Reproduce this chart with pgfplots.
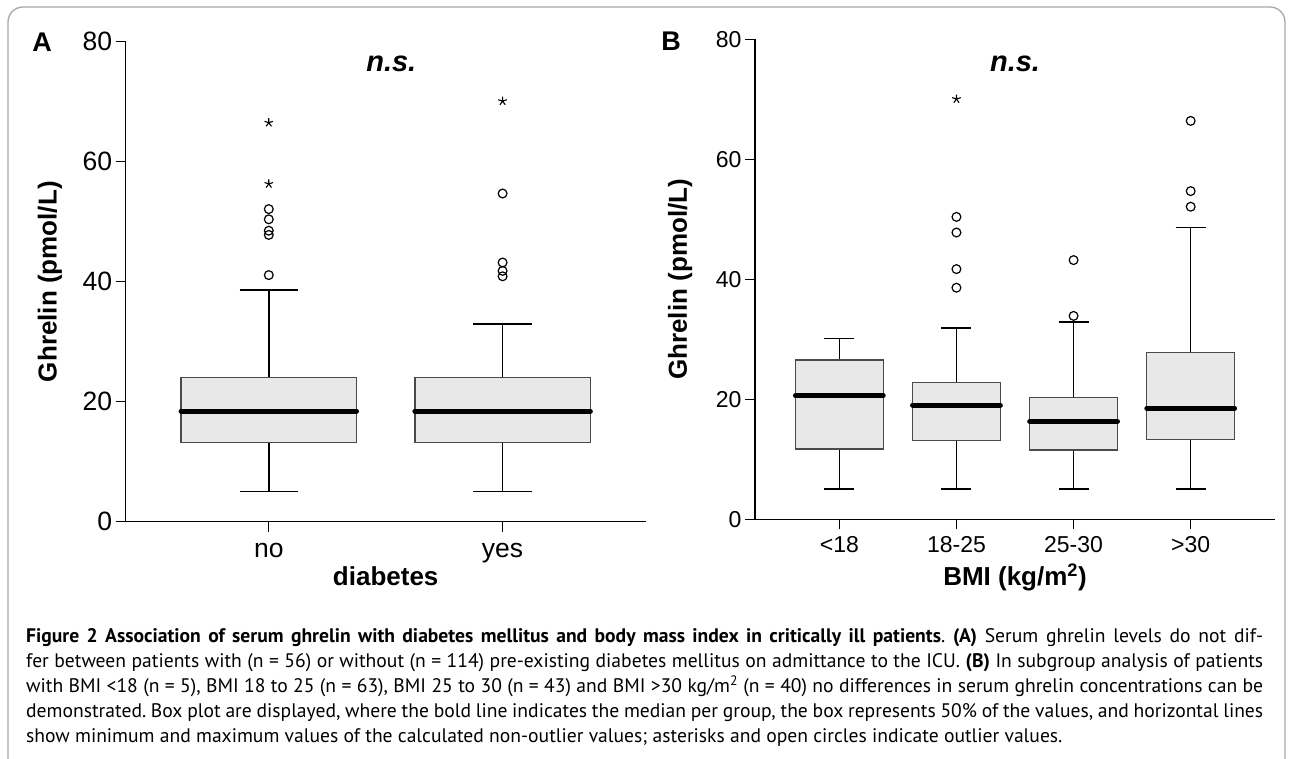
\documentclass[border=0pt]{standalone}
\usepackage{fontspec}
\setmainfont{Liberation Sans}
\newfontfamily\capfont{PT Sans}
\usepackage{pgfplots}
\pgfplotsset{compat=1.18}
\definecolor{boxfill}{HTML}{E8E8E8}
\definecolor{boxedge}{HTML}{4A4A4A}
\definecolor{framegray}{HTML}{A8A8A8}
\pgfplotsset{
  ghrelin/.style={
    scale only axis, width=520pt, height=480pt,
    axis x line*=bottom, axis y line*=left,
    ymin=0, ymax=80, ytick={0,20,40,60,80},
    tick align=outside, major tick length=10pt,
    tick style={black, line width=1.4pt},
    axis line style={black, line width=1.5pt},
    /pgf/number format/assume math mode=true,
    ylabel={\bfseries Ghrelin (pmol/L)},
  },
  whisk/.style={draw=none, mark=none, forget plot,
    error bars/.cd, y dir=both, y explicit,
    error bar style={black, line width=1.5pt},
    error mark options={black, line width=1.5pt, mark size=#1, rotate=90}},
  boxp/.style={fill=boxfill, draw=boxedge, line width=1.3pt, mark=none, forget plot},
  med/.style={only marks, mark=-, forget plot, mark options={black, line width=5pt, line cap=round, mark size=#1}},
  circ/.style={only marks, mark=o, mark size=4.4pt, black, mark options={line width=1.2pt}},
  astk/.style={only marks, mark=star, mark size=4.5pt, black, mark options={line width=1.1pt}},
}
\begin{document}
\frenchspacing
\begin{tikzpicture}
\useasboundingbox (0pt,0pt) rectangle (1292pt,-759pt);
\draw[framegray, line width=1.3pt, rounded corners=15pt] (8pt,-7pt) rectangle (1285pt,-775pt);
\node[font=\bfseries\fontsize{27}{27}\selectfont] at (42pt,-42pt) {A};
\node[font=\bfseries\fontsize{27}{27}\selectfont] at (671pt,-41pt) {B};

% Panel A
\begin{axis}[ghrelin, at={(125.7pt,-521.7pt)}, anchor=south west,
  xmin=-0.612, xmax=1.612, xtick={0,1}, xticklabels={no,yes},
  ticklabel style={font=\fontsize{26.5}{26.5}\selectfont},
  xticklabel style={anchor=base, yshift=-26pt},
  xlabel={\bfseries diabetes},
  every axis x label/.style={at={(axis description cs:0.5,-0.132)}, anchor=base, font=\fontsize{26}{26}\selectfont},
  every axis y label/.style={at={(axis description cs:-0.1456,0.5)}, rotate=90, anchor=center, font=\fontsize{26}{26}\selectfont},
]
% whiskers: centre at median, += up to upper whisker, -= down to lower whisker
\addplot[whisk=29.25pt] coordinates {(0,18.45) += (0,20.15) -= (0,13.45) (1,18.45) += (0,14.5) -= (0,13.45)};
% boxes: lower and upper quartiles
\addplot[boxp] coordinates {(-0.375,13.2) (0.375,13.2) (0.375,24.0) (-0.375,24.0)} -- cycle;
\addplot[boxp] coordinates {(0.625,13.2) (1.375,13.2) (1.375,24.0) (0.625,24.0)} -- cycle;
% medians
\addplot[med=87.75pt] coordinates {(0,18.45) (1,18.45)};
\addplot[circ] coordinates {(0,52.1) (0,50.4) (0,48.5) (0,47.8) (0,41.1) (1,54.7) (1,43.2) (1,41.8) (1,40.9)};
\addplot[astk] coordinates {(0,66.5) (0,56.3) (1,70.1)};
\node[font=\fontsize{29}{29}\selectfont\bfseries\itshape] at (axis cs:0.524,76.3) {n.s.};
\end{axis}

% Panel B
\begin{axis}[ghrelin, at={(755pt,-519.3pt)}, anchor=south west,
  xmin=-0.72, xmax=3.72, xtick={0,1,2,3}, xticklabels={{<18},{18-25},{25-30},{>30}},
  ticklabel style={font=\fontsize{23}{23}\selectfont},
  xticklabel style={anchor=base, yshift=-23.4pt},
  xlabel={\bfseries BMI (kg/m\textsuperscript{2})},
  every axis x label/.style={at={(axis description cs:0.5,-0.137)}, anchor=base, font=\fontsize{26}{26}\selectfont},
  every axis y label/.style={at={(axis description cs:-0.144,0.5)}, rotate=90, anchor=center, font=\fontsize{26}{26}\selectfont},
]
\addplot[whisk=15pt] coordinates {
  (0,20.6) += (0,9.5) -= (0,15.55)
  (1,19.05) += (0,12.85) -= (0,14.0)
  (2,16.3) += (0,16.6) -= (0,11.25)
  (3,18.5) += (0,30.1) -= (0,13.45)};
\addplot[boxp] coordinates {(-0.375,11.7) (0.375,11.7) (0.375,26.55) (-0.375,26.55)} -- cycle;
\addplot[boxp] coordinates {(0.625,13.1) (1.375,13.1) (1.375,22.8) (0.625,22.8)} -- cycle;
\addplot[boxp] coordinates {(1.625,11.55) (2.375,11.55) (2.375,20.3) (1.625,20.3)} -- cycle;
\addplot[boxp] coordinates {(2.625,13.3) (3.375,13.3) (3.375,27.8) (2.625,27.8)} -- cycle;
\addplot[med=43.9pt] coordinates {(0,20.6) (1,19.05) (2,16.3) (3,18.5)};
\addplot[circ] coordinates {(1,50.4) (1,47.8) (1,41.7) (1,38.6) (2,43.2) (2,33.9) (3,66.4) (3,54.7) (3,52.1)};
\addplot[astk] coordinates {(1,70.05)};
\node[font=\fontsize{29}{29}\selectfont\bfseries\itshape] at (axis cs:1.5,75.9) {n.s.};
\end{axis}

% Caption
\begin{scope}[every node/.style={anchor=base west, inner sep=0pt}]
\node[font=\capfont\fontsize{19.6}{24.9}\selectfont] at (26pt,-642.7pt) {\makebox[1237pt][s]{\textbf{Figure 2 Association of serum ghrelin with diabetes mellitus and body mass index in critically ill patients}. \textbf{(A)} Serum ghrelin levels do not dif-}};
\node[font=\capfont\fontsize{19.6}{24.9}\selectfont] at (26pt,-667.3pt) {\makebox[1237pt][s]{fer between patients with (n = 56) or without (n = 114) pre-existing diabetes mellitus on admittance to the ICU. \textbf{(B)} In subgroup analysis of patients}};
\node[font=\capfont\fontsize{19.6}{24.9}\selectfont] at (26pt,-692.7pt) {\makebox[1237pt][s]{with BMI <18 (n = 5), BMI 18 to 25 (n = 63), BMI 25 to 30 (n = 43) and BMI >30 kg/m\textsuperscript{2} (n = 40) no differences in serum ghrelin concentrations can be}};
\node[font=\capfont\fontsize{19.6}{24.9}\selectfont] at (26pt,-717.3pt) {\makebox[1237pt][s]{demonstrated. Box plot are displayed, where the bold line indicates the median per group, the box represents 50\% of the values, and horizontal lines}};
\node[font=\capfont\fontsize{19.6}{24.9}\selectfont] at (26pt,-742.3pt) {show minimum and maximum values of the calculated non-outlier values; asterisks and open circles indicate outlier values.};
\end{scope}
\end{tikzpicture}
\end{document}
